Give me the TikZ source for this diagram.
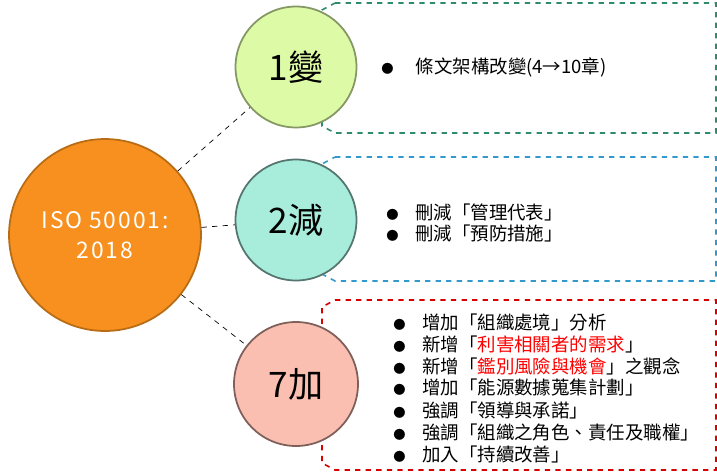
\documentclass[tikz,border=0pt]{standalone}
\usepackage{fontspec}
\setmainfont{Noto Sans CJK TC}
\usepackage{tikz}

\definecolor{orangeC}{HTML}{F7901E}
\definecolor{greenC}{HTML}{DDFBA6}
\definecolor{tealC}{HTML}{A8EDDC}
\definecolor{pinkC}{HTML}{FBBFB2}
\definecolor{greenL}{HTML}{2E8B6E}
\definecolor{blueL}{HTML}{3399CC}
\newcommand{\dotb}{{\fontsize{7}{7}\selectfont ●}\hspace{0.9em}}

\begin{document}
\begin{tikzpicture}[x=0.02cm, y=-0.02cm,
    ball/.style = {circle, draw, line width=1pt, font=\fontsize{20}{20}\selectfont},
    frame/.style = {dashed, line width=0.9pt},
    item/.style = {anchor=west, font=\fontsize{10.5}{10.5}\selectfont, inner sep=0pt}]
    \useasboundingbox (0,0) rectangle (717,471);
    % frames
    \draw[frame, greenL] (335,3) -- (716,3) -- (716,133) -- (335,133) -- (322,126) -- (322,10) -- cycle;
    \draw[frame, blueL] (335,157) -- (716,157) -- (716,281) -- (335,281) -- (322,274) -- (322,164) -- cycle;
    \draw[frame, red!85!black] (335,300) -- (716,300) -- (716,470) -- (335,470) -- (322,463) -- (322,307) -- cycle;
    % circles
    \node[ball, fill=orangeC, draw=orangeC!75!black, minimum size=3.84cm, text=white, align=center,
          font=\fontsize{13}{17}\selectfont\addfontfeatures{LetterSpace=8}] (iso) at (105,235) {ISO 50001:\\2018};
    \node[ball, fill=greenC, draw=greenC!60!black, minimum size=2.42cm] (one) at (296,67) {1變};
    \node[ball, fill=tealC, draw=tealC!50!black, minimum size=2.42cm] (two) at (296,220) {2減};
    \node[ball, fill=pinkC, draw=pinkC!50!black, minimum size=2.48cm] (seven) at (296,384) {7加};
    \draw[dashed] (iso) -- (one);
    \draw[dashed] (iso) -- (two);
    \draw[dashed] (iso) -- (seven);
    % items
    \node[item] (a1) at (381,67) {\dotb\hspace{0.3em}條文架構改變(4→10章)};
    \node[item] (b1) at (386,212) {\dotb 刪減「管理代表」};
    \node[item] (b2) at (386,233) {\dotb 刪減「預防措施」};
    \node[item] (c1) at (393,322) {\dotb 增加「組織處境」分析};
    \node[item] (c2) at (393,344) {\dotb 新增「\textcolor{red}{利害相關者的需求}」};
    \node[item] (c3) at (393,366) {\dotb 新增「\textcolor{red}{鑑別風險與機會}」之觀念};
    \node[item] (c4) at (393,388) {\dotb 增加「能源數據蒐集計劃」};
    \node[item] (c5) at (393,410) {\dotb 強調「領導與承諾」};
    \node[item] (c6) at (393,432) {\dotb 強調「組織之角色、責任及職權」};
    \node[item] (c7) at (393,454) {\dotb 加入「持續改善」};
\end{tikzpicture}
\end{document}
